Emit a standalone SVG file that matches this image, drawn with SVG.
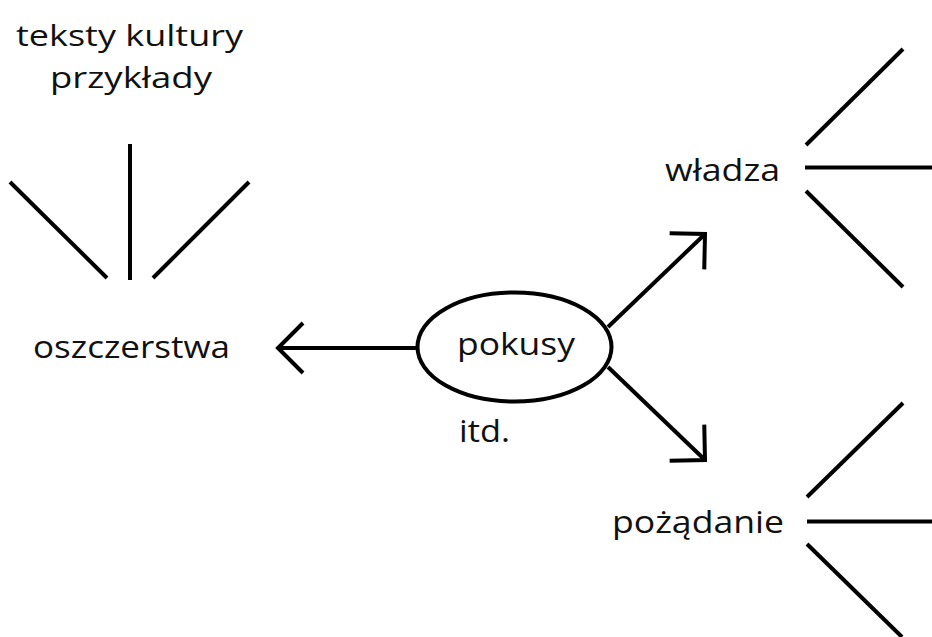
<svg xmlns="http://www.w3.org/2000/svg" width="932" height="637" viewBox="0 0 932 637">
<style>
  text { font-family: "Open Sans", "Noto Sans", "DejaVu Sans", sans-serif; font-size: 31px; fill: #111; }
  .sm { font-size: 30px; }
  .ln { stroke: #000; stroke-width: 4; fill: none; }
  .c { text-anchor: middle; }
</style>
<defs>
  <marker id="arrow" markerUnits="userSpaceOnUse" orient="auto" markerWidth="60" markerHeight="60" viewBox="-30 -30 60 60" refX="0" refY="0" overflow="visible">
    <path d="M-25,-25 L0,0 L-25,25" fill="none" stroke="#000" stroke-width="4" stroke-linejoin="miter"/>
  </marker>
</defs>
<rect width="932" height="637" fill="#fff"/>

<g id="connectors">
  <line class="ln" x1="417" y1="348" x2="278" y2="348" marker-end="url(#arrow)"/>
  <line class="ln" x1="608" y1="327" x2="705" y2="234" marker-end="url(#arrow)"/>
  <line class="ln" x1="608" y1="367" x2="705" y2="460" marker-end="url(#arrow)"/>
  <!-- fan above oszczerstwa -->
  <line class="ln" x1="10" y1="182" x2="107" y2="278"/>
  <line class="ln" x1="130" y1="144" x2="130" y2="280"/>
  <line class="ln" x1="153" y1="278" x2="249" y2="182"/>
  <!-- fan right of władza -->
  <line class="ln" x1="806" y1="145" x2="903" y2="49"/>
  <line class="ln" x1="805" y1="167.5" x2="932" y2="167.5"/>
  <line class="ln" x1="806" y1="191" x2="903" y2="287"/>
  <!-- fan right of pożądanie -->
  <line class="ln" x1="807" y1="497" x2="903" y2="403"/>
  <line class="ln" x1="807" y1="521.5" x2="932" y2="521.5"/>
  <line class="ln" x1="807" y1="544" x2="902" y2="637"/>
</g>

<g id="node-pokusy">
  <ellipse cx="514.5" cy="347" rx="97" ry="54.5" fill="#fff" stroke="#000" stroke-width="4"/>
  <text x="516" y="355" class="c" textLength="118" lengthAdjust="spacingAndGlyphs">pokusy</text>
</g>
<g id="label-itd">
  <text x="459" y="442" textLength="51" lengthAdjust="spacingAndGlyphs">itd.</text>
</g>
<g id="node-oszczerstwa">
  <text x="33" y="358" textLength="197" lengthAdjust="spacingAndGlyphs">oszczerstwa</text>
</g>
<g id="node-teksty">
  <text class="sm" x="16" y="46" textLength="227" lengthAdjust="spacingAndGlyphs">teksty kultury</text>
  <text class="sm" x="50" y="88" textLength="162" lengthAdjust="spacingAndGlyphs">przykłady</text>
</g>
<g id="node-wladza">
  <text x="665" y="181" textLength="115" lengthAdjust="spacingAndGlyphs">władza</text>
</g>
<g id="node-pozadanie">
  <text x="612" y="533" textLength="172" lengthAdjust="spacingAndGlyphs">pożądanie</text>
</g>
</svg>
